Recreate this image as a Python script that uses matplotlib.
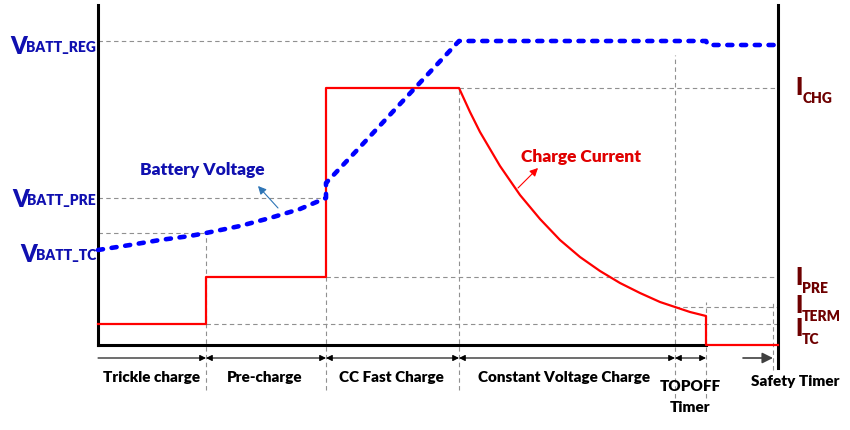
import matplotlib
matplotlib.use("Agg")
import matplotlib.pyplot as plt

# time axis (t) and level axis, origin at the lower-left corner of the plot
phase_t = [0, 108, 228, 361, 577, 608]          # phase boundaries
safety_t = [645, 675]
right_t = 680

V_REG, I_CHG, V_PRE, V_TC_MARK = 304, 257, 147, 112
I_PRE, I_TERM, I_TC = 68, 38, 21

volt_t = [0, 32, 62, 92, 108, 142, 172, 202, 228, 228, 262, 302, 361, 608, 610, 680]
volt_v = [95, 100, 105, 109, 112, 119, 127, 136, 147, 162, 198, 241, 304, 304, 300, 300]

curr_t = [0, 108, 108, 228, 228, 361, 372, 382, 402, 422, 442, 462, 482, 502,
          522, 542, 562, 577, 592, 608, 608, 680]
curr_v = [21, 21, 68, 68, 257, 257, 233, 213, 179, 150, 126, 105, 88, 74,
          62, 52, 43, 38, 33, 29, 0, 0]

phase_names = ["Trickle charge", "Pre-charge", "CC Fast Charge",
               "Constant Voltage Charge", "TOPOFF\nTimer"]

FONT = "Lato"
BLUE_TXT = "#1010b0"
RED_TXT = "#6e0000"
GRID = "#909090"

fig = plt.figure(figsize=(8.5, 4.3), dpi=100)
ax = fig.add_axes([0, 0, 1, 1])
ax.set_xlim(-98, 752)
ax.set_ylim(-85, 345)
ax.axis("off")

def hdash(y, x0, x1):
    ax.plot([x0, x1], [y, y], color=GRID, lw=0.8, ls=(0, (4, 3)), zorder=1)

def vdash(x, y0, y1):
    ax.plot([x, x], [y0, y1], color=GRID, lw=0.8, ls=(0, (4, 3)), zorder=1)

# reference lines
hdash(V_REG, 0, phase_t[3])
hdash(I_CHG, phase_t[3], 677)
hdash(V_PRE, 0, phase_t[2])
hdash(V_TC_MARK, 0, phase_t[1])
hdash(I_PRE, phase_t[2], right_t)
hdash(I_TERM, phase_t[4], right_t)
hdash(I_TC, phase_t[1], right_t)
vdash(phase_t[1], -45, V_TC_MARK)
vdash(phase_t[2], -45, I_PRE)
vdash(phase_t[3], -45, I_CHG)
vdash(phase_t[4], -53, 290)
vdash(phase_t[5], -53, 43)
vdash(safety_t[1], -25, 45)

# axes frame
ax.plot([0, 0], [0, 340], color="black", lw=2.2, zorder=2)
ax.plot([0, phase_t[5]], [0, 0], color="black", lw=2.2, zorder=2)
ax.plot([right_t, right_t], [-23, 340], color="black", lw=2.2, zorder=2)

# curves
ax.plot(curr_t, curr_v, color="#ff0000", lw=1.6, zorder=3)
ax.plot(volt_t, volt_v, color="#0000ff", lw=3.3, ls=(0, (1.1, 1.9)),
        dash_capstyle="round", zorder=4)

# phase arrows
ay = -13
for i in range(len(phase_t) - 1):
    style = "-|>" if i == 0 else "<|-|>"
    ax.annotate("", xy=(phase_t[i + 1], ay), xytext=(phase_t[i], ay),
                arrowprops=dict(arrowstyle=style, lw=0.8, color="black",
                                mutation_scale=9, shrinkA=0, shrinkB=0))
ax.annotate("", xy=(safety_t[1], ay), xytext=(safety_t[0], ay),
            arrowprops=dict(arrowstyle="-|>", lw=1.2, color="#404040",
                            mutation_scale=16, shrinkA=0, shrinkB=0))

label_x = [54, 167, 293, 466, 592]
label_y = [-33, -33, -33, -33, -52]
for name, x, y in zip(phase_names, label_x, label_y):
    ax.text(x, y, name, ha="center", va="center", fontsize=11,
            fontweight="heavy", family=FONT, linespacing=1.8)
ax.text(697, -37, "Safety Timer", ha="center", va="center", fontsize=11,
        fontweight="heavy", family=FONT)

# level labels
def left_label(y, sub):
    s = ax.text(-2, y, sub, ha="right", va="baseline", fontsize=10,
                fontweight="heavy", family=FONT, color=BLUE_TXT)
    ax.annotate("V", xy=(0, 0), xycoords=s, ha="right", va="bottom",
                xytext=(1, -3), textcoords="offset points", fontsize=17,
                fontweight="heavy", family=FONT, color=BLUE_TXT)

def right_label(y, sub):
    s = ax.annotate("I", xy=(697, y), ha="left", va="baseline", fontsize=17,
                    fontweight="heavy", family=FONT, color=RED_TXT)
    ax.annotate(sub, xy=(1, 0), xycoords=s, ha="left", va="bottom",
                xytext=(0, -4), textcoords="offset points", fontsize=10,
                fontweight="heavy", family=FONT, color=RED_TXT)

left_label(293, "BATT_REG")
left_label(140, "BATT_PRE")
left_label(85, "BATT_TC")
right_label(250, "CHG")
right_label(60, "PRE")
right_label(32, "TERM")
right_label(9, "TC")

# annotations
ax.text(104, 175, "Battery Voltage", ha="center", va="center", fontsize=12.5,
        fontweight="heavy", family=FONT, color=BLUE_TXT)
ax.annotate("", xy=(160, 159), xytext=(180, 137),
            arrowprops=dict(arrowstyle="-|>", lw=0.8, color="#2e75b6",
                            mutation_scale=12, shrinkA=0, shrinkB=0))
ax.text(483, 188, "Charge Current", ha="center", va="center", fontsize=12.5,
        fontweight="heavy", family=FONT, color="#e00000")
ax.annotate("", xy=(440, 177), xytext=(420, 157),
            arrowprops=dict(arrowstyle="-|>", lw=0.8, color="#ff0000",
                            mutation_scale=12, shrinkA=0, shrinkB=0))

fig.savefig("out.png", dpi=100)
